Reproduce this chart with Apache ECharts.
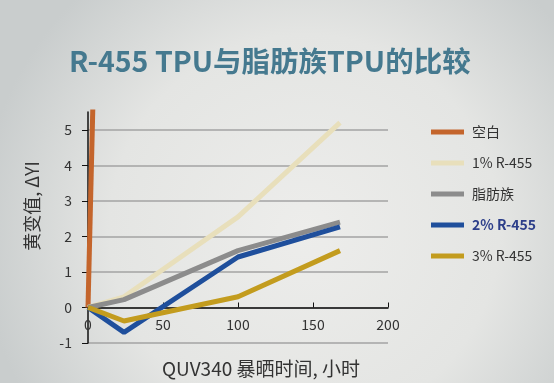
<!DOCTYPE html>
<html><head><meta charset="utf-8">
<script src="https://cdn.jsdelivr.net/npm/echarts@6/dist/echarts.min.js"></script>
<style>html,body{margin:0;padding:0;}#c{width:554px;height:383px;}</style>
</head><body><div id="c"></div>
<script>
const titleText = 'R-455 TPU与脂肪族TPU的比较';
const xName = 'QUV340 暴晒时间, 小时';
const yName = '黄变值, ΔYI';
const seriesNames = ['空白', '1% R-455', '脂肪族', '2% R-455', '3% R-455'];
const blankData = [[0, 0], [24, 42]];
const r455_1 = [[0, 0], [24, 0.3], [100, 2.55], [168, 5.2]];
const aliphatic = [[0, 0], [24, 0.22], [100, 1.6], [168, 2.4]];
const r455_2 = [[0, 0], [24, -0.7], [100, 1.42], [168, 2.27]];
const r455_3 = [[0, 0], [24, -0.38], [100, 0.3], [168, 1.6]];
const colors = ['#c4652c', '#e8dfbb', '#8c8c8c', '#1f4f9c', '#c39c1e'];
const allData = [blankData, r455_1, aliphatic, r455_2, r455_3];

const chart = echarts.init(document.getElementById('c'));
const font = '"Noto Sans CJK SC", "Noto Sans", sans-serif';
chart.setOption({
  backgroundColor: {type: 'radial', x: 0.55, y: 0.6, r: 0.85,
    colorStops: [{offset: 0, color: '#ededeb'}, {offset: 0.6, color: '#e4e5e3'}, {offset: 1, color: '#c9cdcd'}]},
  title: {text: titleText, left: 64, top: 42,
    textStyle: {color: '#45798f', fontSize: 28.5, fontWeight: 'bold', fontFamily: font}},
  legend: {orient: 'vertical', left: 426, top: 118, itemWidth: 33, itemHeight: 5, itemGap: 13, icon: 'rect',
    data: seriesNames,
    formatter: function (n) { return n === '2% R-455' ? '{b|' + n + '}' : n; },
    textStyle: {color: '#333', fontSize: 14, fontFamily: font, lineHeight: 18, padding: [0, 0, 0, 3],
      rich: {b: {fontWeight: 'bold', color: '#2d3f8a', fontSize: 14, fontFamily: font}}}},
  grid: {left: 88, right: 166, top: 112, bottom: 40, outerBoundsMode: 'none', containLabel: false},
  xAxis: {type: 'value', min: 0, max: 200, interval: 50, offset: -35.5,
    name: xName, nameLocation: 'middle', nameGap: 52,
    nameTextStyle: {color: '#333', fontSize: 19, fontFamily: font, padding: [0, 0, 0, 46]},
    axisLine: {onZero: false, lineStyle: {color: '#111', width: 1.5}},
    axisTick: {show: true, inside: true, length: 5, lineStyle: {color: '#111'}},
    axisLabel: {color: '#333', fontSize: 14, fontFamily: font, margin: 10},
    splitLine: {show: false}},
  yAxis: {type: 'value', min: -1, max: 5.5, interval: 1,
    name: yName, nameLocation: 'middle', nameGap: 47,
    nameTextStyle: {color: '#333', fontSize: 18, fontFamily: font, padding: [0, 0, 0, 43]},
    axisLine: {show: true, lineStyle: {color: '#111', width: 1.5}},
    axisTick: {show: true, length: 6, lineStyle: {color: '#111'}},
    axisLabel: {color: '#333', fontSize: 14, fontFamily: font, margin: 16, showMaxLabel: false,
      formatter: function (v) { return Number.isInteger(v) ? String(v) : ''; }},
    splitLine: {show: true, showMaxLine: false, lineStyle: {color: '#a3a3a3', width: 1.5}}},
  series: seriesNames.map(function (n, i) {
    return {name: n, type: 'line', data: allData[i], symbol: 'none', clip: true,
      lineStyle: {color: colors[i], width: 5}, itemStyle: {color: colors[i]}};
  })
});
</script></body></html>
